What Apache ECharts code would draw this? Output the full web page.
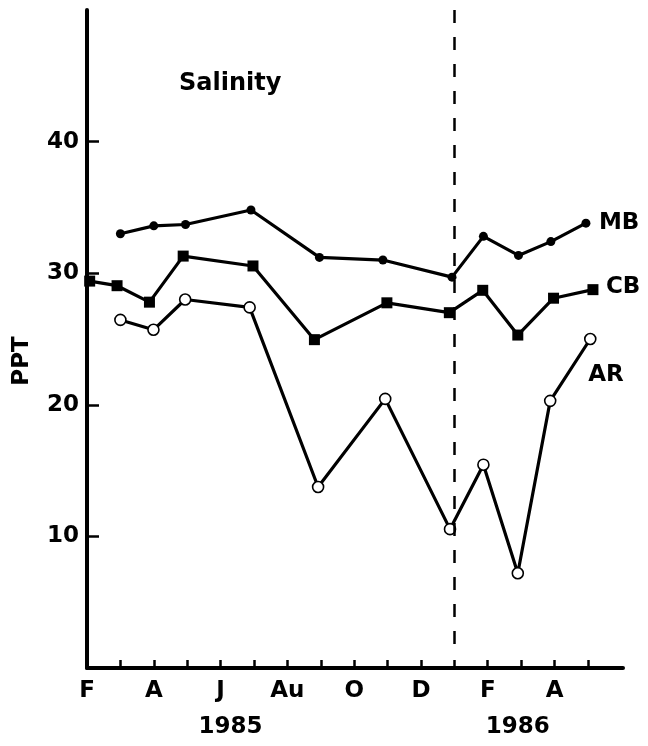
<!DOCTYPE html>
<html>
<head>
<meta charset="utf-8">
<script src="https://cdn.jsdelivr.net/npm/echarts@6/dist/echarts.min.js"></script>
<style>
html,body{margin:0;padding:0;background:#fff;}
#chart{width:648px;height:746px;}
</style>
</head>
<body>
<div id="chart"></div>
<script>
// Month index: 0 = Feb 1985, 1 = Mar 1985, ... 11 = Jan 1986, ...
const monthTickLabels = ['F', 'A', 'J', 'Au', 'O', 'D', 'F', 'A'];
const monthTickPositions = [0, 2, 4, 6, 8, 10, 12, 14];
const minorTickPositions = [1, 2, 3, 4, 5, 6, 7, 8, 9, 10, 11, 12, 13, 14, 15];
const yearLabels = ['1985', '1986'];
const yearPositions = [4.3, 12.9];
const yTickValues = [10, 20, 30, 40];
const yearBoundary = 11;

const mbMonths = [1.0, 2.0, 2.95, 4.91, 6.96, 8.86, 10.93, 11.87, 12.92, 13.89, 14.94];
const mbValues = [33.0, 33.6, 33.7, 34.8, 31.2, 31.0, 29.7, 32.8, 31.35, 32.4, 33.8];

const cbMonths = [0.08, 0.9, 1.87, 2.88, 4.97, 6.81, 8.98, 10.85, 11.85, 12.9, 13.97, 15.15];
const cbValues = [29.4, 29.05, 27.8, 31.3, 30.55, 24.95, 27.75, 27.0, 28.7, 25.3, 28.1, 28.75];

const arMonths = [1.0, 1.99, 2.94, 4.87, 6.92, 8.93, 10.87, 11.87, 12.9, 13.87, 15.07];
const arValues = [26.45, 25.7, 28.0, 27.4, 13.75, 20.45, 10.55, 15.45, 7.2, 20.3, 25.0];

function pairs(xs, ys) { return xs.map((x, i) => [x, ys[i]]); }

const FONT = 'DejaVu Sans';
const INK = '#000';
const labelStyle = { fontFamily: FONT, fontWeight: 'bold', fontSize: 23, color: INK };

const chart = echarts.init(document.getElementById('chart'), null, { renderer: 'canvas' });

chart.setOption({
  animation: false,
  backgroundColor: '#fff',
  title: {
    text: 'Salinity',
    left: 174,
    top: 67,
    textStyle: { fontFamily: FONT, fontWeight: 'bold', fontSize: 24, color: INK }
  },
  grid: { left: 87, top: 10, right: 25, bottom: 78, containLabel: false },
  xAxis: [{
    type: 'value',
    min: 0,
    max: 16.05,
    interval: 1,
    splitLine: { show: false },
    axisLine: { show: true, lineStyle: { color: INK, width: 4 } },
    axisTick: { show: true, inside: true, length: 8, customValues: minorTickPositions, lineStyle: { color: INK, width: 2.5 } },
    axisLabel: {
      show: true,
      customValues: monthTickPositions,
      margin: 12,
      formatter: function (v) {
        const i = monthTickPositions.indexOf(Math.round(v));
        return i >= 0 ? monthTickLabels[i] : '';
      },
      ...labelStyle
    }
  }, {
    type: 'value',
    position: 'bottom',
    offset: 36,
    min: 0,
    max: 16.05,
    splitLine: { show: false },
    axisLine: { show: false },
    axisTick: { show: false },
    axisLabel: {
      show: true,
      customValues: yearPositions,
      margin: 12,
      formatter: function (v) {
        let best = 0;
        yearPositions.forEach((p, i) => { if (Math.abs(p - v) < Math.abs(yearPositions[best] - v)) best = i; });
        return yearLabels[best];
      },
      ...labelStyle
    }
  }],
  yAxis: {
    type: 'value',
    min: 0,
    max: 50,
    interval: 10,
    name: 'PPT',
    nameLocation: 'middle',
    nameRotate: 90,
    nameGap: 53,
    nameTextStyle: { fontFamily: FONT, fontWeight: 'bold', fontSize: 23, color: INK, padding: [0, 44, 0, 0] },
    splitLine: { show: false },
    axisLine: { show: true, lineStyle: { color: INK, width: 4 } },
    axisTick: { show: true, inside: true, length: 12, customValues: yTickValues, lineStyle: { color: INK, width: 2.5 } },
    axisLabel: { show: true, customValues: yTickValues, margin: 8, ...labelStyle }
  },
  series: [{
    name: 'MB',
    type: 'line',
    data: pairs(mbMonths, mbValues),
    symbol: 'circle',
    symbolSize: 9,
    itemStyle: { color: INK },
    lineStyle: { color: INK, width: 3.2 },
    endLabel: { show: true, formatter: 'MB', distance: 0, offset: [13, 0], ...labelStyle },
    markLine: {
      silent: true,
      symbol: ['none', 'none'],
      label: { show: false },
      lineStyle: { color: INK, width: 2.5, type: [13, 14] },
      data: [[{ coord: [yearBoundary, 50] }, { coord: [yearBoundary, 1.8] }]]
    }
  }, {
    name: 'CB',
    type: 'line',
    data: pairs(cbMonths, cbValues),
    symbol: 'rect',
    symbolSize: 11,
    itemStyle: { color: INK },
    lineStyle: { color: INK, width: 3.2 },
    endLabel: { show: true, formatter: 'CB', distance: 0, offset: [13, -3], ...labelStyle }
  }, {
    name: 'AR',
    type: 'line',
    data: pairs(arMonths, arValues),
    symbol: 'circle',
    symbolSize: 11,
    itemStyle: { color: '#fff', borderColor: INK, borderWidth: 1.6 },
    lineStyle: { color: INK, width: 3.2 },
    endLabel: { show: true, formatter: 'AR', distance: 0, offset: [-2, 36], ...labelStyle }
  }]
});
</script>
</body>
</html>
